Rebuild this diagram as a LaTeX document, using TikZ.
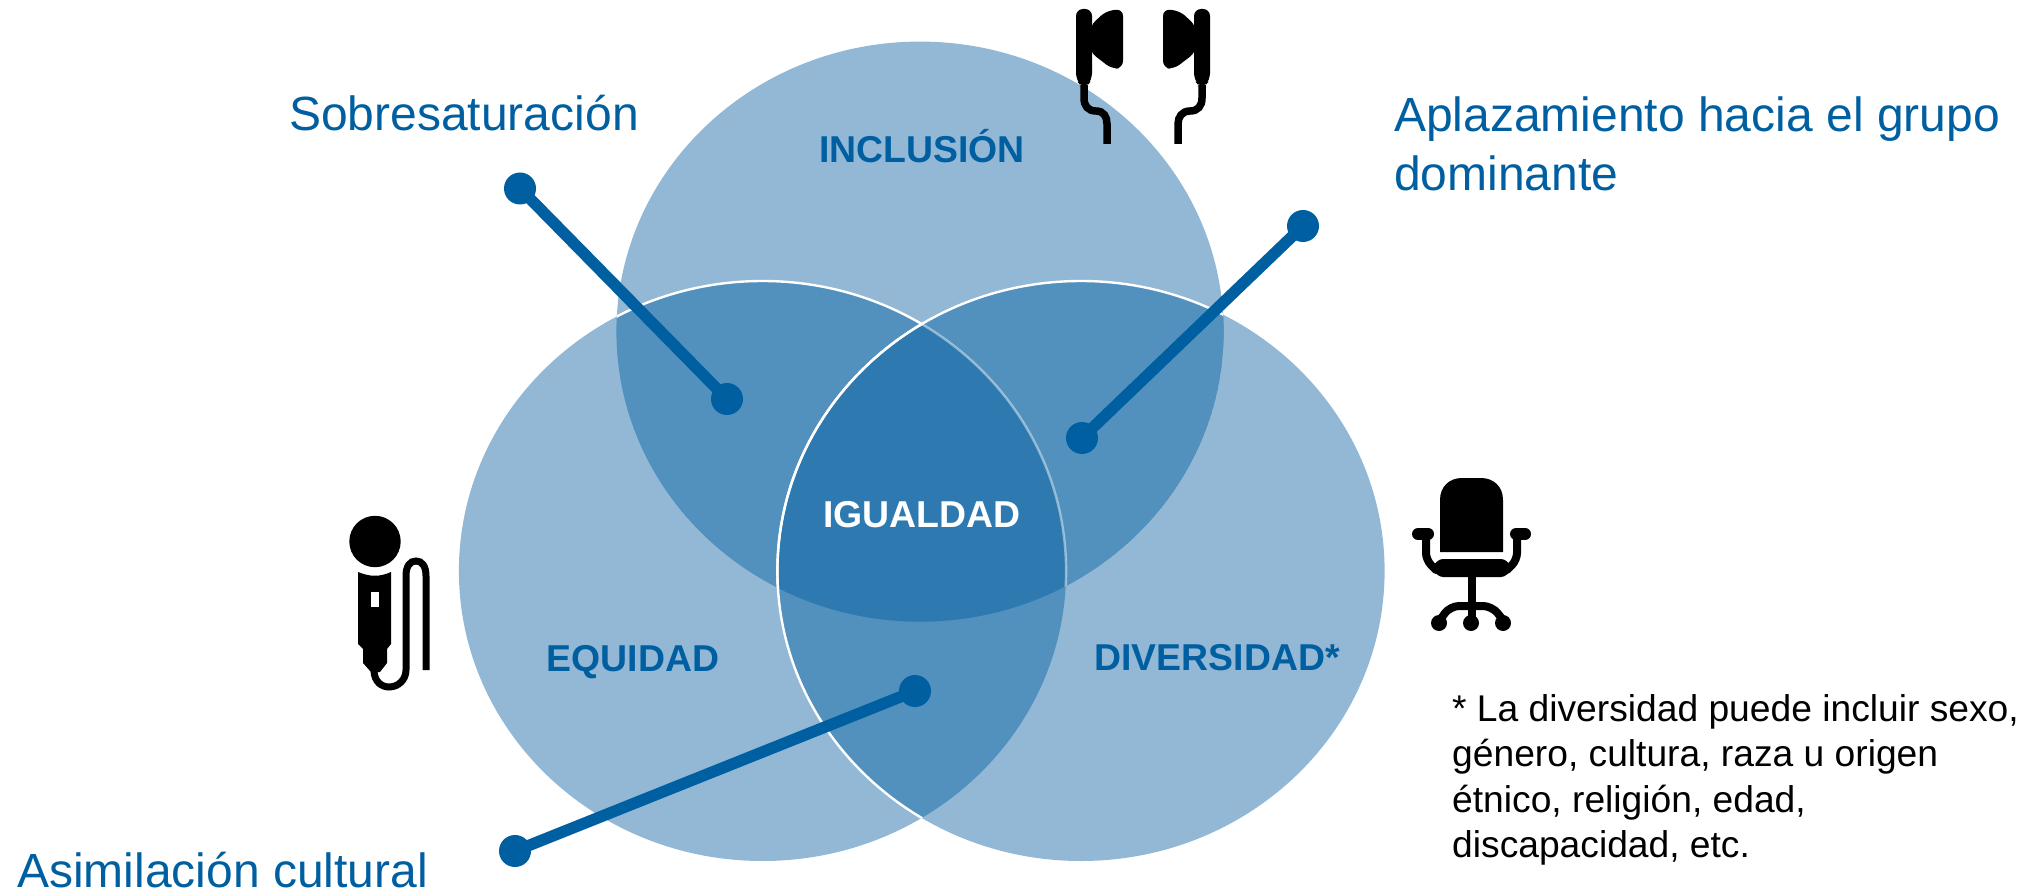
\documentclass[tikz,border=0pt]{standalone}
\usepackage{fontspec}
\setmainfont{Liberation Sans}
\definecolor{one}{HTML}{92B8D6}
\definecolor{two}{HTML}{5291BE}
\definecolor{three}{HTML}{2E7AB0}
\definecolor{ink}{HTML}{005FA1}
\tikzset{
  dotnode/.style={circle,fill=ink,draw=none,minimum size=32pt,inner sep=0pt},
  spoke/.style={draw=ink,line width=11.5pt},
  lead/.style={text=ink,font=\fontsize{48pt}{58.5pt}\selectfont,anchor=west,align=left,inner sep=0pt},
  lab/.style={text=ink,font=\fontsize{37.4pt}{44pt}\selectfont\bfseries,inner sep=0pt},
  glyph/.style={fill=black,draw=none},
  cord/.style={draw=black,fill=none,line width=7.5pt},
  rim/.style={draw=white,line width=2.4pt},
  faintrim/.style={draw=white,draw opacity=.45,line width=2.4pt}
}
\begin{document}
\begin{tikzpicture}[x=1pt,y=-1pt]
\useasboundingbox (0,0) rectangle (2039,890);
\def\Rx{303.6}\def\Ry{290}
\def\T{(920,331.6) ellipse [x radius=\Rx,y radius=\Ry]}
\def\L{(762.5,571) ellipse [x radius=\Rx,y radius=\Ry]}
\def\R{(1081,571) ellipse [x radius=\Rx,y radius=\Ry]}
\fill[one] \T; \fill[one] \L; \fill[one] \R;
\begin{scope}\clip \T; \fill[two] \L; \fill[two] \R; \end{scope}
\begin{scope}\clip \L; \fill[two] \R; \end{scope}
\begin{scope}\clip \T; \clip \L; \fill[three] \R; \end{scope}
% strong rim of the left circle inside the top one
\begin{scope}\clip \T; \draw[rim] \L; \end{scope}
% its part inside the right circle is faint
\begin{scope}\clip \T; \clip \R; \fill[two] \T; \clip \L; \fill[three] \T; \end{scope}
\begin{scope}\clip \T; \clip \R; \draw[faintrim] \L; \end{scope}
% rim of the right circle
\begin{scope}\clip \T; \draw[rim] \R; \end{scope}
\begin{scope}\clip \L; \draw[rim] \R; \end{scope}
% labels
\node[lab] (inc) at (922,146.5) {INCLUSIÓN};
\node[lab,text=white] (igu) at (922,515) {IGUALDAD};
\node[lab] (equ) at (633,662) {EQUIDAD};
\node[lab] (div) at (1217,658) {DIVERSIDAD*};
\node[lead] (sob) at (289,113) {Sobresaturación};
\node[lead,anchor=north west] (apl) at (1394,97) {Aplazamiento hacia el grupo\\dominante};
\node[lead,anchor=base west] (asi) at (17,887) {Asimilación cultural};
\node[anchor=north west,align=left,inner sep=0pt,font=\fontsize{37.2pt}{45.5pt}\selectfont] (nota) at (1452,694)
  {* La diversidad puede incluir sexo,\\género, cultura, raza u origen\\étnico, religión, edad,\\discapacidad, etc.};
% connectors
\node[dotnode] (a1) at (520,188.5) {};
\node[dotnode] (a2) at (727,399) {};
\node[dotnode] (b1) at (1303,226) {};
\node[dotnode] (b2) at (1082,438) {};
\node[dotnode] (c1) at (915,691) {};
\node[dotnode] (c2) at (515,851) {};
\draw[spoke] (a1.center) -- (a2.center);
\draw[spoke] (b1.center) -- (b2.center);
\draw[spoke] (c1.center) -- (c2.center);
% earphones
\begin{scope}[shift={(1040,0)}]
 \fill[glyph,rounded corners=7pt] (36,9) -- (52,9) -- (52,80) -- (46,87) -- (42,87) -- (36,80) -- cycle;
 \fill[glyph,rounded corners=7pt] (50,26) -- (66,11) -- (83,9) -- (83,68) -- (72,69) -- (50,52) -- cycle;
 \draw[cord] (44,85) -- (44,98) .. controls (44,106) and (48,111) .. (56,111) .. controls (64,111) and (67,117) .. (67,124) -- (67,144);
 \fill[glyph,rounded corners=7pt] (170,9) -- (154,9) -- (154,80) -- (160,87) -- (164,87) -- (170,80) -- cycle;
 \fill[glyph,rounded corners=7pt] (156,26) -- (140,11) -- (123,9) -- (123,68) -- (134,69) -- (156,52) -- cycle;
 \draw[cord] (162,85) -- (162,98) .. controls (162,106) and (158,111) .. (150,111) .. controls (142,111) and (138,117) .. (138,124) -- (138,144);
\end{scope}
% microphone
\begin{scope}[shift={(330,500)}]
 \fill[glyph] (45,41.5) circle (25.7);
 \fill[glyph] (28,72) .. controls (40,77) and (50,77) .. (61,72) -- (61,144) -- (57,149) -- (57,163) -- (50,172) -- (41,172) -- (33,163) -- (33,149) -- (28,144) -- cycle;
 \fill[white] (41,92) rectangle (49,107);
 \draw[cord,line width=7pt] (44,170) .. controls (44,182) and (52,187) .. (59,187) .. controls (68,187) and (76,180) .. (76,170) -- (76,76) .. controls (76,66) and (80,61) .. (86,61) .. controls (92,61) and (96,66) .. (96,76) -- (96,170);
\end{scope}
% chair
\begin{scope}[shift={(1400,460)}]
 \fill[glyph] (40,92) -- (40,40) .. controls (40,26) and (50,18) .. (62,18) -- (81,18) .. controls (93,18) and (103,26) .. (103,40) -- (103,92) -- cycle;
 \fill[glyph,rounded corners=3pt] (40,99) -- (104,99) -- (114,108) -- (104,117) -- (40,117) -- (30,108) -- cycle;
 \draw[cord,line width=8pt,line cap=round,rounded corners=7pt] (26,74) -- (26,100) -- (36,110);
 \draw[cord,line width=8pt,line cap=round,rounded corners=7pt] (117,74) -- (117,100) -- (107,110);
 \draw[line width=12pt,line cap=round] (18,74) -- (28,74);
 \draw[line width=12pt,line cap=round] (116,74) -- (125,74);
 \draw[cord,line width=8pt] (72,115) -- (72,160);
 \draw[cord,line width=8pt,rounded corners=9pt] (40,160) -- (50,146) -- (92,146) -- (103,160);
 \fill[glyph] (39,163) circle (8); \fill[glyph] (71,163) circle (8); \fill[glyph] (103,163) circle (8);
\end{scope}
\end{tikzpicture}
\end{document}
